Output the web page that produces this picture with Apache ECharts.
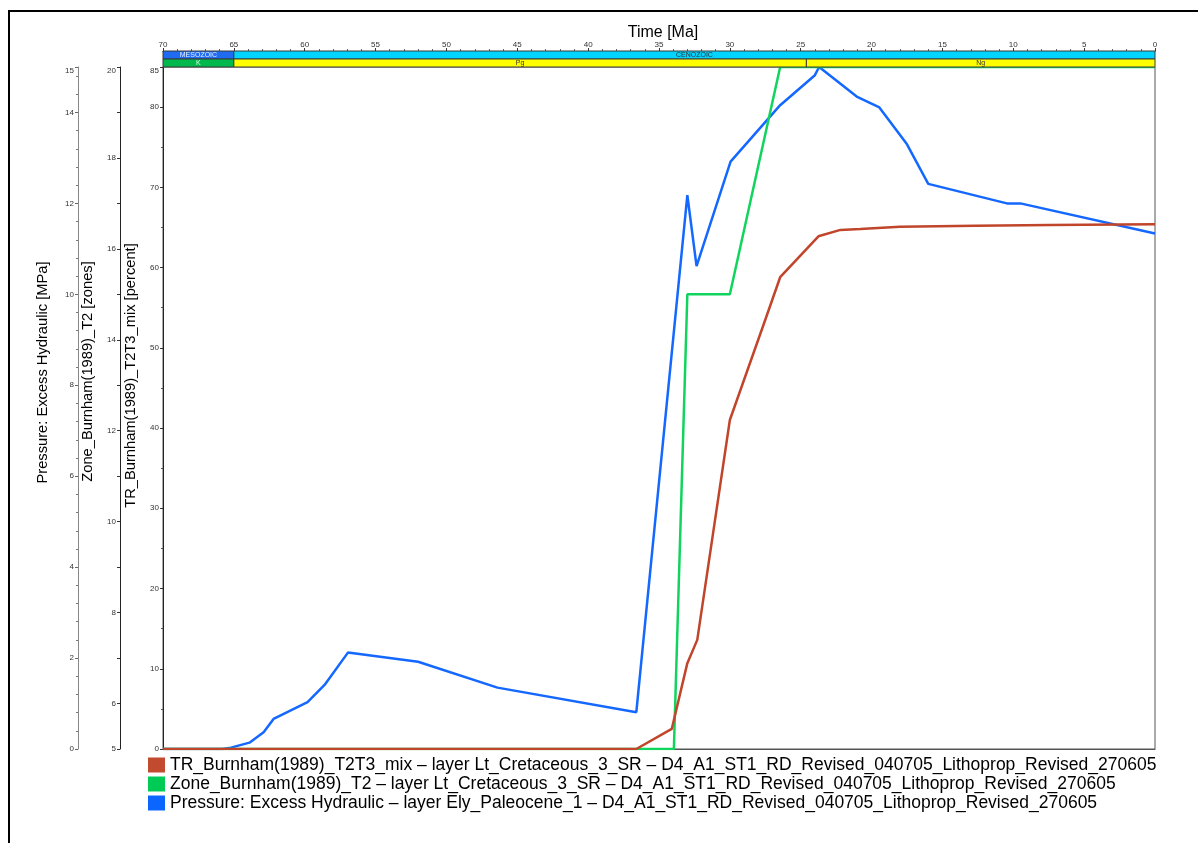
<!DOCTYPE html>
<html>
<head>
<meta charset="utf-8">
<script src="https://cdn.jsdelivr.net/npm/echarts@6/dist/echarts.min.js"></script>
<style>
html, body { margin: 0; padding: 0; background: #fff; }
#chart { width: 1198px; height: 843px; }
</style>
</head>
<body>
<div id="chart"></div>
<script>
// Transformation ratio of the source rock, [age Ma, percent]
const trMix = [
  [70, 0], [36.6, 0], [34.1, 2.5], [33.0, 10.7], [32.3, 13.6], [30.0, 41.0],
  [27.5, 53.5], [26.45, 58.8], [23.75, 63.9], [22.2, 64.7], [20.8, 64.8],
  [18.0, 65.1], [12.7, 65.2], [7.4, 65.3], [0, 65.4]
];
// Maturity zone, [age Ma, zone]
const zoneT2 = [
  [70, 5], [33.95, 5], [33.0, 15], [30.0, 15], [26.45, 20], [0, 20]
];
// Excess hydraulic pressure, [age Ma, MPa]
const excessPressure = [
  [70, 0], [65.8, 0], [65.2, 0.03], [63.9, 0.14], [62.9, 0.37], [62.2, 0.66],
  [59.8, 1.03], [58.6, 1.41], [56.95, 2.12], [52.0, 1.92], [46.4, 1.35],
  [36.6, 0.81], [33.0, 12.18], [32.35, 10.62], [29.95, 12.92], [26.45, 14.16],
  [24.0, 14.82], [23.7, 15.0], [21.05, 14.35], [19.45, 14.11], [17.5, 13.3],
  [16.0, 12.43], [10.45, 12.0], [9.5, 12.0], [0, 11.34]
];

// Geological time scale: [from Ma, to Ma, row]
const eraBands = [[70, 65, 1], [65, 0, 1]];
const eraNames = ['MESOZOIC', 'CENOZOIC'];
const periodBands = [[70, 65, 0], [65, 24.6, 0], [24.6, 0, 0]];
const periodNames = ['K', 'Pg', 'Ng'];

const seriesNames = [
  'TR_Burnham(1989)_T2T3_mix \u2013 layer Lt_Cretaceous_3_SR \u2013 D4_A1_ST1_RD_Revised_040705_Lithoprop_Revised_270605',
  'Zone_Burnham(1989)_T2 \u2013 layer Lt_Cretaceous_3_SR \u2013 D4_A1_ST1_RD_Revised_040705_Lithoprop_Revised_270605',
  'Pressure: Excess Hydraulic \u2013 layer Ely_Paleocene_1 \u2013 D4_A1_ST1_RD_Revised_040705_Lithoprop_Revised_270605'
];
const axisTitles = [
  'Pressure: Excess Hydraulic [MPa]',
  'Zone_Burnham(1989)_T2 [zones]',
  'TR_Burnham(1989)_T2T3_mix [percent]'
];
const timeTitle = 'Time [Ma]';

const FONT = "'Liberation Sans', Arial, sans-serif";
const bandFill = { MESOZOIC: '#1f6bf2', CENOZOIC: '#00d4ff', K: '#00b84c', Pg: '#ffff00', Ng: '#ffff00' };
const bandText = { MESOZOIC: '#e8f0ff', CENOZOIC: '#333', K: '#d8ffe0', Pg: '#333', Ng: '#333' };

const bandData = eraBands.map((b, i) => ({ value: b, name: eraNames[i] }))
  .concat(periodBands.map((b, i) => ({ value: b, name: periodNames[i] })));

function renderBand(params, api) {
  const from = api.value(0), to = api.value(1), row = api.value(2);
  const name = bandData[params.dataIndex].name;
  const a = api.coord([from, row + 1]);
  const b = api.coord([to, row]);
  return {
    type: 'group',
    children: [
      {
        type: 'rect',
        shape: { x: a[0], y: a[1], width: b[0] - a[0], height: b[1] - a[1] },
        style: { fill: bandFill[name], stroke: '#3a3a3a', lineWidth: 1 }
      },
      {
        type: 'text',
        style: {
          text: name, x: (a[0] + b[0]) / 2, y: (a[1] + b[1]) / 2 + 0.5,
          align: 'center', verticalAlign: 'middle',
          fontSize: 7, fontFamily: FONT, fill: bandText[name]
        }
      }
    ]
  };
}

const smallLabel = { fontSize: 8, color: '#333', fontFamily: FONT };

const chart = echarts.init(document.getElementById('chart'));
chart.setOption({
  animation: false,
  backgroundColor: '#fff',
  textStyle: { fontFamily: FONT },
  grid: [
    { left: 163, right: 43, top: 67, bottom: 94, show: true, borderColor: '#555', borderWidth: 1 },
    { left: 163, right: 43, top: 51, height: 16 }
  ],
  xAxis: [
    {
      gridIndex: 0, type: 'value', min: 0, max: 70, inverse: true,
      axisLine: { show: true, onZero: false, lineStyle: { color: '#555' } },
      axisTick: { show: false }, axisLabel: { show: false }, splitLine: { show: false }
    },
    {
      gridIndex: 1, type: 'value', position: 'top', min: 0, max: 70, interval: 5, inverse: true,
      axisLine: { show: true, onZero: false, lineStyle: { color: '#333', width: 1 } },
      axisTick: { show: true, inside: false, length: 3, lineStyle: { color: '#333' } },
      minorTick: { show: true, splitNumber: 5, length: 2, lineStyle: { color: '#666' } },
      axisLabel: Object.assign({ margin: 2 }, smallLabel),
      splitLine: { show: false }
    }
  ],
  yAxis: [
    {
      gridIndex: 0, type: 'value', position: 'left', offset: 0, min: 0, max: 85, interval: 10,
      axisLine: { show: true, onZero: false, lineStyle: { color: '#222' } },
      axisTick: { show: true, inside: false, length: 3, lineStyle: { color: '#333' } },
      minorTick: { show: true, splitNumber: 2, length: 2, lineStyle: { color: '#555' } },
      axisLabel: Object.assign({ margin: 4, verticalAlignMaxLabel: 'top' }, smallLabel),
      splitLine: { show: false }
    },
    {
      gridIndex: 0, type: 'value', position: 'left', offset: 43, min: 5, max: 20, interval: 1,
      axisLine: { show: true, onZero: false, lineStyle: { color: '#222' } },
      axisTick: { show: true, inside: false, length: 3, lineStyle: { color: '#333' } },
      axisLabel: Object.assign({
        margin: 4, verticalAlignMaxLabel: 'top',
        formatter: v => (v === 5 || v % 2 === 0) ? String(v) : ''
      }, smallLabel),
      splitLine: { show: false }
    },
    {
      gridIndex: 0, type: 'value', position: 'left', offset: 85, min: 0, max: 15, interval: 2,
      axisLine: { show: true, onZero: false, lineStyle: { color: '#888' } },
      axisTick: { show: true, inside: false, length: 3, lineStyle: { color: '#666' } },
      minorTick: { show: true, splitNumber: 5, length: 2, lineStyle: { color: '#777' } },
      axisLabel: Object.assign({ margin: 4, verticalAlignMaxLabel: 'top' }, smallLabel),
      splitLine: { show: false }
    },
    { gridIndex: 1, type: 'value', min: 0, max: 2, show: false }
  ],
  legend: {
    orient: 'vertical', left: 143, top: 751,
    icon: 'rect', itemWidth: 17, itemHeight: 15, itemGap: 1,
    textStyle: { fontSize: 17.5, lineHeight: 18, color: '#000', fontFamily: FONT },
    data: seriesNames
  },
  series: [
    {
      name: seriesNames[0], type: 'line', xAxisIndex: 0, yAxisIndex: 0,
      data: trMix, showSymbol: false, color: '#c24a2e',
      lineStyle: { width: 2.5, color: '#c0452a' }, z: 4
    },
    {
      name: seriesNames[1], type: 'line', xAxisIndex: 0, yAxisIndex: 1,
      data: zoneT2, showSymbol: false, color: '#00cc55',
      lineStyle: { width: 2.5, color: '#11d45e' }, z: 3
    },
    {
      name: seriesNames[2], type: 'line', xAxisIndex: 0, yAxisIndex: 2,
      data: excessPressure, showSymbol: false, color: '#0a66ff',
      lineStyle: { width: 2.5, color: '#1468ff' }, z: 2
    },
    {
      type: 'custom', xAxisIndex: 1, yAxisIndex: 3, data: bandData,
      renderItem: renderBand, clip: false, silent: true, z: 5
    }
  ],
  graphic: [
    {
      type: 'rect', silent: true,
      shape: { x: 9, y: 11, width: 1300, height: 900 },
      style: { fill: 'none', stroke: '#000', lineWidth: 2 }
    },
    {
      type: 'text', x: 663, y: 33,
      style: { text: timeTitle, fontSize: 16, fontFamily: FONT, fill: '#000', align: 'center', verticalAlign: 'middle' }
    },
    {
      type: 'text', x: 43, y: 372.5, rotation: Math.PI / 2,
      style: { text: axisTitles[0], fontSize: 14.7, fontFamily: FONT, fill: '#000', align: 'center', verticalAlign: 'middle' }
    },
    {
      type: 'text', x: 88, y: 371.5, rotation: Math.PI / 2,
      style: { text: axisTitles[1], fontSize: 14.7, fontFamily: FONT, fill: '#000', align: 'center', verticalAlign: 'middle' }
    },
    {
      type: 'text', x: 131, y: 375.5, rotation: Math.PI / 2,
      style: { text: axisTitles[2], fontSize: 14.7, fontFamily: FONT, fill: '#000', align: 'center', verticalAlign: 'middle' }
    }
  ]
});
</script>
</body>
</html>
